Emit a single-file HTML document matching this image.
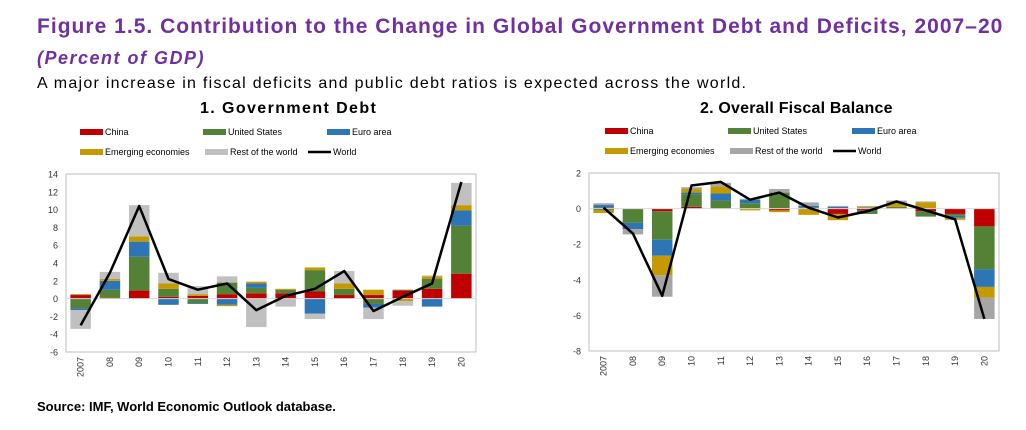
<!DOCTYPE html>
<html><head><meta charset="utf-8"><style>
body{margin:0;background:#fff;width:1026px;height:430px;overflow:hidden;font-family:"Liberation Sans",sans-serif;}
.t{position:absolute;white-space:nowrap;}
</style></head><body>
<div class="t" style="left:37px;top:15px;font-size:21px;letter-spacing:1.02px;font-weight:bold;color:#7030a0;">Figure 1.5. Contribution to the Change in Global Government Debt and Deficits, 2007–20</div>
<div class="t" style="left:37px;top:48px;font-size:18px;letter-spacing:1.5px;font-weight:bold;font-style:italic;color:#7030a0;">(Percent of GDP)</div>
<div class="t" style="left:37px;top:75px;font-size:16px;letter-spacing:1.27px;color:#000;">A major increase in fiscal deficits and public debt ratios is expected across the world.</div>
<div class="t" style="left:37px;top:399px;font-size:13px;font-weight:bold;">Source: IMF, World Economic Outlook database.</div>
<svg id="svg" width="1026" height="430" style="position:absolute;left:0;top:0"></svg>
<script>
const years=["2007","08","09","10","11","12","13","14","15","16","17","18","19","20"];
const seriesNames=["China","United States","Euro area","Emerging economies","Rest of the world"];
// Government debt contributions
const debtChina=[0.4,0.1,0.9,0.2,0.3,0.5,0.6,0.6,0.8,0.4,0.4,0.9,1.1,2.8];
const debtUS=[-1.1,0.9,3.8,0.9,-0.5,1.3,0.6,0.4,2.4,0.7,-0.6,0.1,1.1,5.4];
const debtEuro=[-0.2,1.0,1.7,-0.7,-0.1,-0.7,0.5,0,-1.7,0,-0.4,0,-0.9,1.7];
const debtEM=[0.1,0.2,0.6,0.6,0.2,-0.15,0.2,0.1,0.3,0.6,0.6,-0.3,0.3,0.6];
const debtRest=[-2.1,0.8,3.5,1.2,0.9,0.7,-3.2,-0.9,-0.6,1.4,-1.3,-0.5,0.1,2.5];
const debtWorld=[-3.0,2.9,10.4,2.2,1.0,1.7,-1.3,0.3,1.1,3.1,-1.4,0.2,1.7,13.1];
const debtTicks=[14,12,10,8,6,4,2,0,-2,-4,-6];
// Overall fiscal balance contributions
const balChina=[0.05,0,-0.15,0.1,0,0,-0.1,0,-0.3,-0.1,0,-0.15,-0.3,-1.0];
const balUS=[-0.1,-0.8,-1.6,0.7,0.45,0.3,0.9,0.05,0,-0.2,0.1,-0.3,-0.1,-2.4];
const balEuro=[0.15,-0.35,-0.9,0.1,0.4,0.2,0,0.1,0.1,0.05,0,0,-0.1,-1.0];
const balEM=[-0.15,0,-1.1,0.2,0.4,-0.1,-0.1,-0.35,-0.35,0.05,0.25,0.35,-0.1,-0.6];
const balRest=[0.1,-0.3,-1.2,0.1,0.2,0.05,0.2,0.2,0.05,0.05,0.1,0.05,-0.05,-1.2];
const balWorld=[0.05,-1.4,-4.9,1.3,1.5,0.5,0.9,0.05,-0.5,-0.15,0.4,-0.1,-0.6,-6.2];
const balTicks=[2,0,-2,-4,-6,-8];

const NS="http://www.w3.org/2000/svg";
const svg=document.getElementById('svg');
function el(tag,attrs,parent){const e=document.createElementNS(NS,tag);for(const k in attrs)e.setAttribute(k,attrs[k]);(parent||svg).appendChild(e);return e;}

function chart(o){
  const g=el('g',{});
  
  
  const ys=v=>o.y0+(o.max-v)/(o.max-o.min)*(o.y1-o.y0);
  const bw=(o.x1-o.x0)/years.length;
  const xs=i=>o.x0+bw*(i+0.5);
  const tt=el('text',{x:o.tx,y:113,'font-size':16,'letter-spacing':o.ls,'font-weight':'bold','font-family':'Liberation Sans, sans-serif'},g);
  tt.textContent=o.title;
  
  
  const lx=o.lx;
  const leg=[[0,0,o.colors[0],seriesNames[0]],[123,0,o.colors[1],seriesNames[1]],[247,0,o.colors[2],seriesNames[2]],[0,20,o.colors[3],seriesNames[3]],[125,20,o.colors[4],seriesNames[4]]];
  leg.forEach(l=>{
    const r=el('rect',{x:lx+l[0],y:o.y0-45+l[1],width:23,height:6,fill:l[2]},g);
    
    
    const t=el('text',{x:lx+l[0]+25,y:o.y0-39+l[1],'font-size':9,'font-family':'Liberation Sans, sans-serif'},g);
    t.textContent=l[3];
    
    
  });
  const wl=el('line',{x1:lx+228,x2:lx+251,y1:o.y0-22,y2:o.y0-22,stroke:'#000','stroke-width':2.5},g);
  
  
  const wt=el('text',{x:lx+253,y:o.y0-19,'font-size':9,'font-family':'Liberation Sans, sans-serif'},g);
  wt.textContent='World';
  
  
  const fr=el('rect',{x:o.x0,y:o.y0,width:o.x1-o.x0,height:o.y1-o.y0,fill:'none',stroke:'#bfbfbf','stroke-width':1},g);
  
  
  o.ticks.forEach(t=>{
    const tx=el('text',{x:o.x0-8,y:ys(t)+3.5,'text-anchor':'end','font-size':9,fill:'#333','font-family':'Liberation Sans, sans-serif'},g);
    tx.textContent=t;
    
    
  });
  const series=[o.china,o.us,o.euro,o.em,o.rest];
  years.forEach((y,i)=>{
    let pos=0,neg=0;
    series.forEach((s,k)=>{
      const v=s[i];if(!v)return;
      let a,b;
      if(v>0){a=pos;b=pos+v;pos=b;}else{a=neg;b=neg+v;neg=b;}
      const r=el('rect',{x:xs(i)-bw*0.35,width:bw*0.7,y:Math.min(ys(a),ys(b)),height:Math.abs(ys(a)-ys(b)),fill:o.colors[k]},g);
      
      
    });
    const lt=el('text',{transform:`translate(${xs(i)+3},${o.y1+5}) rotate(-90)`,'text-anchor':'end','font-size':9,fill:'#333','font-family':'Liberation Sans, sans-serif'},g);
    lt.textContent=y;
    
    
  });
  const zl=el('line',{x1:o.x0,x2:o.x1,y1:ys(0),y2:ys(0),stroke:'#d9d9d9','stroke-width':1},g);
  
  
  const pts=o.world.map((v,i)=>xs(i)+','+ys(v)).join(' ');
  const pl=el('polyline',{points:pts,fill:'none',stroke:'#000','stroke-width':2.5,'stroke-linejoin':'round'},g);
  
  
}
chart({name:'government-debt-chart',title:'1. Government Debt',tx:200,ls:1.4,x0:66,x1:476,y0:174,y1:352,max:14,min:-6,ticks:debtTicks,lx:80,
  china:debtChina,us:debtUS,euro:debtEuro,em:debtEM,rest:debtRest,world:debtWorld,
  colors:['#c00000','#538135','#2e75b6','#c49a00','#c0c0c0']});
chart({name:'fiscal-balance-chart',title:'2. Overall Fiscal Balance',tx:700,ls:0.2,x0:589,x1:999,y0:173,y1:351,max:2,min:-8,ticks:balTicks,lx:605,
  china:balChina,us:balUS,euro:balEuro,em:balEM,rest:balRest,world:balWorld,
  colors:['#c00000','#538135','#2e75b6','#c49a00','#a6a6a6']});
</script>
</body></html>
